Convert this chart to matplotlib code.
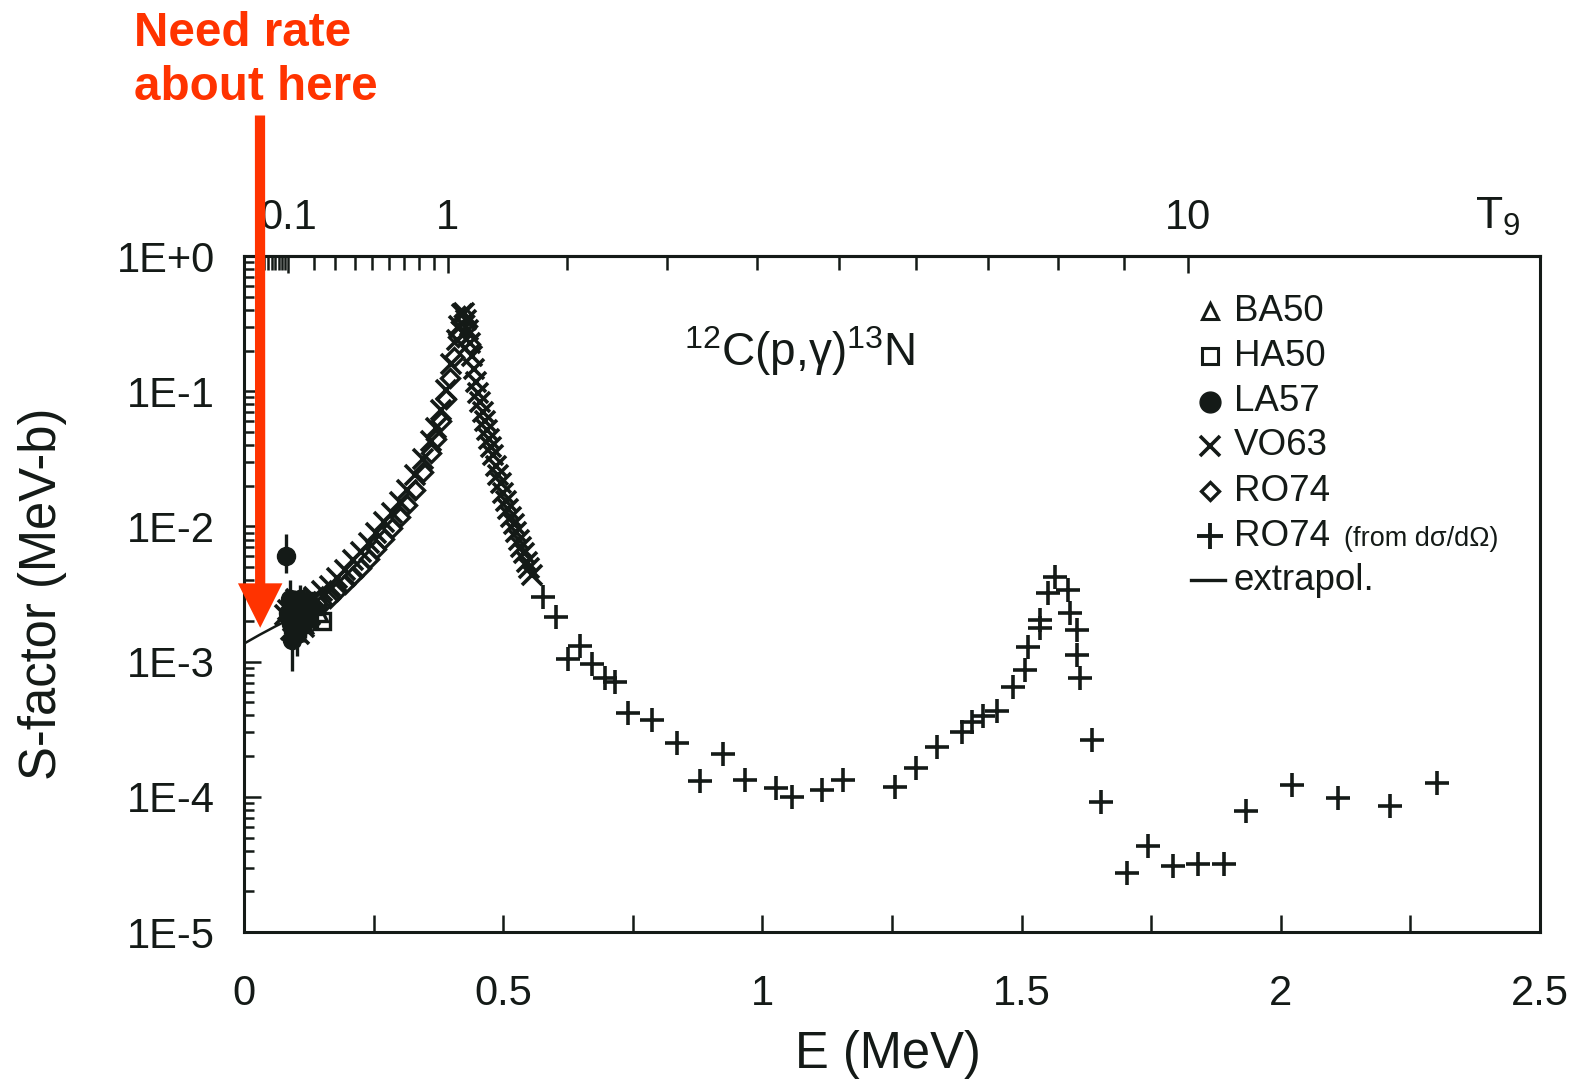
import numpy as np
import matplotlib
matplotlib.use("Agg")
import matplotlib.pyplot as plt
from matplotlib.ticker import FixedLocator, NullFormatter, LogLocator, MultipleLocator

plt.rcParams['font.family'] = ['Liberation Sans', 'DejaVu Sans']
plt.rcParams['mathtext.fontset'] = 'custom'
plt.rcParams['mathtext.rm'] = 'Liberation Sans'
plt.rcParams['mathtext.it'] = 'Liberation Sans:italic'

INK = '#141a17'
RED = '#ff3300'

# ---------------- data (E in MeV, S in MeV b) ----------------
# RO74 (from dsigma/dOmega), '+'
RO74P_E = [0.577, 0.602, 0.625, 0.648, 0.671, 0.697, 0.716, 0.741, 0.787, 0.835,
           0.880, 0.924, 0.967, 1.026, 1.057, 1.115, 1.156,
           1.256, 1.297, 1.337, 1.385, 1.405, 1.426, 1.453, 1.484, 1.507, 1.513,
           1.536, 1.536, 1.551, 1.565, 1.590, 1.594, 1.607, 1.607, 1.613, 1.636, 1.653,
           1.704, 1.744, 1.792, 1.841, 1.891, 1.933, 2.022, 2.111, 2.211, 2.302]
RO74P_S = [3.0e-3, 2.14e-3, 1.04e-3, 1.30e-3, 9.6e-4, 7.6e-4, 7.1e-4, 4.2e-4, 3.7e-4, 2.5e-4,
           1.31e-4, 2.07e-4, 1.33e-4, 1.16e-4, 9.95e-5, 1.12e-4, 1.33e-4,
           1.18e-4, 1.63e-4, 2.33e-4, 3.01e-4, 3.57e-4, 3.96e-4, 4.31e-4, 6.5e-4, 8.7e-4, 1.28e-3,
           1.77e-3, 2.03e-3, 3.2e-3, 4.2e-3, 3.4e-3, 2.29e-3, 1.71e-3, 1.12e-3, 7.6e-4, 2.63e-4, 9.2e-5,
           2.73e-5, 4.33e-5, 3.08e-5, 3.18e-5, 3.18e-5, 7.85e-5, 1.22e-4, 9.8e-5, 8.55e-5, 1.26e-4]

# RO74, open diamonds
RO74_E = [0.120, 0.135, 0.150, 0.165, 0.180, 0.195, 0.210, 0.225, 0.240, 0.255,
          0.270, 0.285, 0.300, 0.315, 0.330, 0.345, 0.360, 0.370, 0.380, 0.390,
          0.398, 0.405, 0.412, 0.418, 0.424, 0.430, 0.436]
RO74_S = [2.40e-3, 2.51e-3, 2.69e-3, 2.95e-3, 3.31e-3, 3.72e-3, 4.27e-3, 4.90e-3, 5.75e-3, 6.76e-3,
          8.13e-3, 9.77e-3, 1.17e-2, 1.45e-2, 1.86e-2, 2.51e-2, 3.47e-2, 4.47e-2, 6.03e-2, 8.71e-2,
          0.126, 0.178, 0.251, 0.324, 0.363, 0.302, 0.224]

# VO63, 'x'
VO63_E = [0.078, 0.085, 0.090, 0.095, 0.100, 0.105, 0.110, 0.115, 0.120, 0.128,
          0.135, 0.150, 0.165, 0.180, 0.195, 0.210, 0.225, 0.240,
          0.255, 0.270, 0.285, 0.300, 0.315, 0.330, 0.345, 0.360, 0.370, 0.380,
          0.390, 0.400, 0.410, 0.415, 0.420,
          0.425, 0.428, 0.432, 0.436, 0.440, 0.444, 0.448, 0.452, 0.456, 0.460,
          0.464, 0.468, 0.472, 0.476, 0.480, 0.485, 0.490, 0.495, 0.500, 0.505,
          0.510, 0.515, 0.520, 0.525, 0.530, 0.535, 0.540, 0.545, 0.550, 0.555]
VO63_S = [2.2e-3, 2.4e-3, 1.7e-3, 2.0e-3, 2.9e-3, 1.6e-3, 2.2e-3, 1.8e-3, 2.75e-3, 2.2e-3,
          3.02e-3, 3.31e-3, 3.63e-3, 4.17e-3, 4.79e-3, 5.62e-3, 6.46e-3, 7.59e-3,
          8.91e-3, 1.07e-2, 1.26e-2, 1.51e-2, 1.86e-2, 2.40e-2, 3.16e-2, 4.27e-2, 5.37e-2, 7.24e-2,
          0.102, 0.158, 0.240, 0.302, 0.372,
          0.380, 0.339, 0.282, 0.229, 0.182, 0.145, 0.117, 9.77e-2, 8.32e-2, 7.08e-2,
          6.03e-2, 5.13e-2, 4.47e-2, 3.89e-2, 3.39e-2, 2.82e-2, 2.40e-2, 2.09e-2, 1.78e-2, 1.55e-2,
          1.35e-2, 1.17e-2, 1.05e-2, 9.12e-3, 7.94e-3, 7.08e-3, 6.31e-3, 5.50e-3, 4.90e-3, 4.37e-3]

# LA57, filled circles with error bars
LA57_E = [0.081, 0.084, 0.088, 0.090, 0.092, 0.096, 0.098, 0.102, 0.104, 0.108, 0.110, 0.114, 0.118, 0.122, 0.126]
LA57_S = [6.0e-3, 2.3e-3, 2.9e-3, 1.9e-3, 1.45e-3, 2.6e-3, 2.1e-3, 1.6e-3, 1.8e-3, 2.9e-3, 2.4e-3, 1.9e-3, 2.0e-3, 2.7e-3, 2.5e-3]
LA57_LO = [4.5e-3, 1.7e-3, 2.0e-3, 1.3e-3, 8.5e-4, 1.9e-3, 1.5e-3, 1.1e-3, 1.3e-3, 2.2e-3, 1.8e-3, 1.4e-3, 1.5e-3, 2.1e-3, 2.0e-3]
LA57_HI = [8.8e-3, 3.0e-3, 4.0e-3, 2.6e-3, 2.2e-3, 3.4e-3, 2.8e-3, 2.2e-3, 2.4e-3, 3.7e-3, 3.2e-3, 2.5e-3, 2.6e-3, 3.4e-3, 3.1e-3]

# BA50 (open triangles), HA50 (open squares)
BA50_E = [0.100, 0.115, 0.130, 0.145]
BA50_S = [2.2e-3, 1.9e-3, 2.6e-3, 2.3e-3]
HA50_E = [0.095, 0.108, 0.125, 0.140, 0.150]
HA50_S = [1.9e-3, 2.5e-3, 2.1e-3, 2.8e-3, 2.0e-3]

# extrapolation curve
EXT_E = [0.0, 0.03, 0.06, 0.09, 0.12]
EXT_S = [1.36e-3, 1.58e-3, 1.82e-3, 2.08e-3, 2.40e-3]

X_TICKS = [0, 0.5, 1, 1.5, 2, 2.5]
X_TICKLABELS = ['0', '0.5', '1', '1.5', '2', '2.5']
Y_TICKS = [1e-5, 1e-4, 1e-3, 1e-2, 1e-1, 1e0]
Y_TICKLABELS = ['1E-5', '1E-4', '1E-3', '1E-2', '1E-1', '1E+0']
T9_MAJOR = [0.1, 1, 10]
T9_LABELS = ['0.1', '1', '10']
T9_MINOR = [0.01 * k for k in range(2, 10)] + [0.1 * k for k in range(2, 10)] + [float(k) for k in range(2, 10)]

ARROW_E, ARROW_S = 0.031, 1.78e-3
GAMOW_COEF = 0.3924  # E0 = coef * T9^(2/3) for 12C + p

# ---------------- figure ----------------
fig = plt.figure(figsize=(15.75, 10.84), dpi=100)
ax = fig.add_axes([0.155, 0.1402, 0.8228, 0.6236])
ax.set_xlim(0, 2.5)
ax.set_yscale('log')
ax.set_ylim(1e-5, 1)

mk = dict(linestyle='none', color=INK)
ax.plot(EXT_E, EXT_S, '-', color=INK, lw=1.8, zorder=2)
ax.plot(RO74_E, RO74_S, marker='D', ms=9, mfc='none', mec=INK, mew=2.4, zorder=3, **mk)
ax.plot(VO63_E, VO63_S, marker='x', ms=15, mew=2.6, zorder=3, **mk)
ax.plot(RO74P_E, RO74P_S, marker='+', ms=17, mew=2.6, zorder=3, **mk)
ax.plot(BA50_E, BA50_S, marker='^', ms=12, mfc='none', mec=INK, mew=2.4, zorder=3, **mk)
ax.plot(HA50_E, HA50_S, marker='s', ms=11, mfc='none', mec=INK, mew=2.4, zorder=3, **mk)
la_s = np.array(LA57_S)
yerr = [la_s - np.array(LA57_LO), np.array(LA57_HI) - la_s]
ax.errorbar(LA57_E, LA57_S, yerr=yerr, fmt='o', ms=13, color=INK, ecolor=INK,
            elinewidth=2.4, capsize=0, zorder=4)

# axes styling
for sp in ax.spines.values():
    sp.set_linewidth(2.2)
    sp.set_color(INK)
ax.set_xticks(X_TICKS)
ax.set_xticklabels(X_TICKLABELS)
ax.xaxis.set_minor_locator(MultipleLocator(0.25))
ax.set_yticks(Y_TICKS)
ax.set_yticklabels(Y_TICKLABELS)
ax.yaxis.set_minor_locator(LogLocator(base=10, subs=range(2, 10), numticks=20))
ax.yaxis.set_minor_formatter(NullFormatter())
ax.tick_params(axis='both', which='both', direction='in', top=False, right=False,
               colors=INK, labelsize=30, width=1.8)
ax.tick_params(axis='x', which='major', length=12, pad=30)
ax.tick_params(axis='x', which='minor', length=12)
ax.tick_params(axis='y', which='major', length=12, pad=21)
ax.tick_params(axis='y', which='minor', length=7)

ax.set_xlabel('E (MeV)', fontsize=36.5, color=INK)
ax.xaxis.set_label_coords(0.497, -0.145)
ax.set_ylabel('S-factor (MeV-b)', fontsize=36.5, color=INK)
ax.yaxis.set_label_coords(-0.137, 0.5)


# top T9 axis
def e2t(e):
    e = np.asarray(e, dtype=float)
    return np.sign(e) * (np.abs(e) / GAMOW_COEF) ** 1.5


def t2e(t):
    t = np.asarray(t, dtype=float)
    return np.sign(t) * GAMOW_COEF * np.abs(t) ** (2.0 / 3.0)


sec = ax.secondary_xaxis('top', functions=(e2t, t2e))
sec.xaxis.set_major_locator(FixedLocator(T9_MAJOR))
sec.set_xticklabels(T9_LABELS)
sec.xaxis.set_minor_locator(FixedLocator(T9_MINOR))
sec.xaxis.set_minor_formatter(NullFormatter())
sec.tick_params(axis='x', which='both', direction='in', colors=INK, labelsize=30, width=1.8, pad=13)
sec.tick_params(axis='x', which='major', length=12)
sec.tick_params(axis='x', which='minor', length=10)
sec.spines['top'].set_linewidth(2.2)
sec.spines['top'].set_color(INK)

ax.text(0.9496, 1.040, r'T$_9$', transform=ax.transAxes, fontsize=32, color=INK,
        ha='left', va='baseline')

# reaction label
ax.text(0.4287, 0.859, r'$^{12}$C(p,γ)$^{13}$N', transform=ax.transAxes, fontsize=33,
        color=INK, ha='center', va='center')

# manual legend
leg_rows = [0.9183, 0.8514, 0.7846, 0.7192, 0.6523, 0.5854, 0.5201]
mx, tx = 0.7457, 0.7636
leg_specs = [
    ('BA50', dict(marker='^', ms=12, mfc='none', mec=INK, mew=2.2)),
    ('HA50', dict(marker='s', ms=11, mfc='none', mec=INK, mew=2.2)),
    ('LA57', dict(marker='o', ms=15, mfc=INK, mec=INK)),
    ('VO63', dict(marker='x', ms=15, mec=INK, mew=2.6)),
    ('RO74', dict(marker='D', ms=9, mfc='none', mec=INK, mew=2.4)),
    ('RO74', dict(marker='+', ms=19, mec=INK, mew=2.8)),
]
for (lab, spec), yy in zip(leg_specs, leg_rows):
    ax.plot([mx], [yy], transform=ax.transAxes, clip_on=False, linestyle='none', **spec)
    t = ax.text(tx, yy, lab, transform=ax.transAxes, fontsize=26.5, color=INK, ha='left', va='center')
    if spec['marker'] == '+':
        ax.annotate('(from dσ/dΩ)', xy=(1, 0), xycoords=t, xytext=(10, 5.5),
                    textcoords='offset points', fontsize=19.5, color=INK, ha='left', va='baseline')
ax.plot([0.7305, 0.757], [leg_rows[6], leg_rows[6]], transform=ax.transAxes, color=INK, lw=2.4,
        clip_on=False)
ax.text(tx, leg_rows[6], 'extrapol.', transform=ax.transAxes, fontsize=26.5, color=INK,
        ha='left', va='center')

# red annotation
fig.text(133 / 1568, 1 - 11 / 1079, 'Need rate\nabout here', fontsize=34.3, fontweight='bold',
         color=RED, ha='left', va='top', linespacing=1.25)
ann = ax.annotate('', xy=(ARROW_E, ARROW_S), xycoords='data',
                  xytext=(260, 968.5), textcoords='figure pixels',
                  arrowprops=dict(arrowstyle='simple,head_length=0.5,head_width=0.5,tail_width=0.115',
                                  mutation_scale=64, color=RED, lw=0, shrinkA=0, shrinkB=0),
                  annotation_clip=False)
ann.set_zorder(30)

fig.savefig('out.png', dpi=100)
